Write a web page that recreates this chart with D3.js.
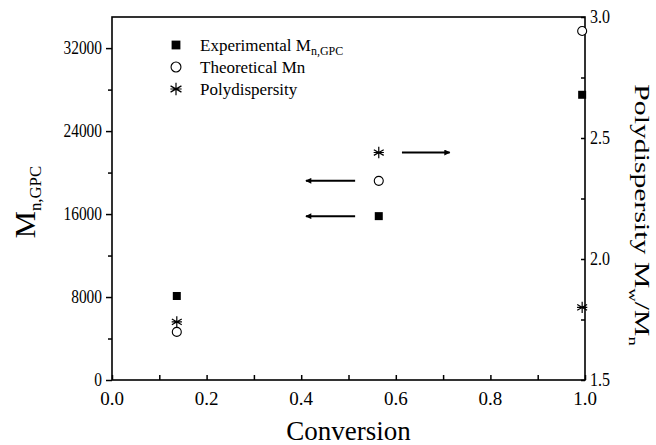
<!DOCTYPE html>
<html>
<head>
<meta charset="utf-8">
<script src="https://cdn.jsdelivr.net/npm/d3@7"></script>
<style>
  body { margin: 0; background: #fff; }
</style>
</head>
<body>
<svg id="viz"></svg>
<script>
var width = 656;
var height = 445;

// data
var conversion = [0.137, 0.564, 0.994];
var mnExperimental = [8100, 15800, 27500];
var mnTheoretical = [4640, 19200, 33650];
var polydispersity = [1.74, 2.44, 1.80];

var leftTicks = [0, 8000, 16000, 24000, 32000];
var rightTicks = [1.5, 2.0, 2.5, 3.0];
var xTicks = [0.0, 0.2, 0.4, 0.6, 0.8, 1.0];

// arrows: [from x, to x, series value, axis]
var arrows = [
  [0.613, 0.714, polydispersity[1], "right"],
  [0.514, 0.410, mnTheoretical[1], "left"],
  [0.514, 0.410, mnExperimental[1], "left"]
];

var legendItems = ["square", "circle", "star"];

var plotLeft = 112, plotRight = 585, plotTop = 17, plotBottom = 380;
var serif = "'Liberation Serif', 'Times New Roman', Times, 'DejaVu Serif', serif";

var x = d3.scaleLinear().domain([0, 1]).range([plotLeft, plotRight]);
var yL = d3.scaleLinear().domain([0, 35000]).range([plotBottom, plotTop]);
var yR = d3.scaleLinear().domain([1.5, 3.0]).range([plotBottom, plotTop]);

var svg = d3.select("#viz")
    .attr("width", width)
    .attr("height", height)
    .attr("font-family", serif)
    .style("font-family", serif);

svg.append("defs").append("marker")
    .attr("id", "head")
    .attr("viewBox", "0 -5 10 10")
    .attr("refX", 9)
    .attr("refY", 0)
    .attr("markerWidth", 4)
    .attr("markerHeight", 3)
    .attr("markerUnits", "strokeWidth")
    .attr("orient", "auto")
    .append("path")
    .attr("d", "M0,-5L10,0L0,5Z")
    .attr("fill", "#000");

// asterisk symbol with six arms
var symbolAsterisk = {
  draw: function(ctx, size) {
    var r = Math.sqrt(size) / 2;
    for (var i = 0; i < 3; i++) {
      var a = Math.PI / 2 + i * Math.PI / 3;
      ctx.moveTo(r * Math.cos(a), r * Math.sin(a));
      ctx.lineTo(-r * Math.cos(a), -r * Math.sin(a));
    }
    ctx.moveTo(-r * 0.9, 0);
    ctx.lineTo(r * 0.9, 0);
  }
};

// axes
var xAxis = d3.axisBottom(x)
    .tickValues(d3.range(0, 1.01, 0.1))
    .tickSize(-5)
    .tickFormat("");
var gx = svg.append("g").attr("transform", "translate(0," + plotBottom + ")").call(xAxis);

var leftAxis = d3.axisLeft(yL)
    .tickValues(d3.range(0, 34001, 4000))
    .tickSize(6)
    .tickFormat("");
var gl = svg.append("g").attr("transform", "translate(" + plotLeft + ",0)").call(leftAxis);
gl.selectAll(".tick line").attr("x2", function(d) { return d % 8000 == 0 ? -6 : -4; });

var rightAxis = d3.axisRight(yR)
    .tickValues(d3.range(1.5, 3.01, 0.25))
    .tickSize(-4)
    .tickFormat("");
var gr = svg.append("g").attr("transform", "translate(" + plotRight + ",0)").call(rightAxis);

[gx, gl, gr].forEach(function(g) {
  g.select(".domain").remove();
  g.selectAll(".tick line").attr("stroke", "#000").attr("stroke-width", 1.5);
});

svg.append("rect")
    .attr("x", plotLeft).attr("y", plotTop)
    .attr("width", plotRight - plotLeft).attr("height", plotBottom - plotTop)
    .attr("fill", "none").attr("stroke", "#000").attr("stroke-width", 1.6);

function addText(sel) {
  return sel.append("text").attr("font-family", serif).attr("fill", "#000");
}

// tick labels (the original lettering is a little condensed)
svg.append("g").selectAll("text")
    .data(xTicks).enter().append("text")
    .attr("font-family", serif)
    .attr("x", function(d) { return x(d); })
    .attr("y", 405)
    .attr("text-anchor", "middle")
    .attr("font-size", 19)
    .text(function(d) { return d.toFixed(1); });

svg.append("g").selectAll("text")
    .data(leftTicks).enter().append("text")
    .attr("font-family", serif)
    .attr("x", plotLeft - 10)
    .attr("y", function(d) { return yL(d) + 6; })
    .attr("text-anchor", "end")
    .attr("font-size", 19)
    .attr("textLength", function(d) { return String(d).length * 7.7; })
    .attr("lengthAdjust", "spacingAndGlyphs")
    .text(function(d) { return d; });

svg.append("g").selectAll("text")
    .data(rightTicks).enter().append("text")
    .attr("font-family", serif)
    .attr("x", plotRight + 5)
    .attr("y", function(d) { return yR(d) + 6; })
    .attr("font-size", 19)
    .attr("textLength", 20)
    .attr("lengthAdjust", "spacingAndGlyphs")
    .text(function(d) { return d.toFixed(1); });

// axis titles
addText(svg)
    .attr("x", (plotLeft + plotRight) / 2)
    .attr("y", 440)
    .attr("text-anchor", "middle")
    .attr("font-size", 27)
    .text("Conversion");

var lt = addText(svg)
    .attr("transform", "translate(35,202) rotate(-90) scale(1.05,1)")
    .attr("text-anchor", "middle")
    .attr("font-size", 29);
lt.append("tspan").text("M");
lt.append("tspan").attr("dy", 6).attr("font-size", 16).text("n,GPC");

var rt = addText(svg)
    .attr("transform", "translate(635,215) rotate(90) scale(1.24,0.88)")
    .attr("text-anchor", "middle")
    .attr("font-size", 24);
rt.append("tspan").text("Polydispersity M");
rt.append("tspan").attr("dy", 7).attr("font-size", 15).text("w");
rt.append("tspan").attr("dy", -7).text("/M");
rt.append("tspan").attr("dy", 7).attr("font-size", 15).text("n");

// marker drawing
function drawMarker(g, type, k) {
  k = k || 1;
  if (type == "square") {
    g.append("rect").attr("x", -4 * k).attr("y", -4 * k).attr("width", 8 * k).attr("height", 8 * k).attr("fill", "#000");
  } else if (type == "circle") {
    g.append("circle").attr("r", 4.5 * k).attr("fill", "#fff").attr("stroke", "#000").attr("stroke-width", 1.1);
  } else {
    g.append("path")
      .attr("d", d3.symbol().type(symbolAsterisk).size(130 * k * k)())
      .attr("stroke", "#000").attr("stroke-width", 1.2).attr("fill", "none");
  }
}

var points = svg.append("g");
conversion.forEach(function(c, i) {
  drawMarker(points.append("g").attr("transform", "translate(" + x(c) + "," + yL(mnTheoretical[i]) + ")"), "circle");
  drawMarker(points.append("g").attr("transform", "translate(" + x(c) + "," + yR(polydispersity[i]) + ")"), "star");
  drawMarker(points.append("g").attr("transform", "translate(" + x(c) + "," + yL(mnExperimental[i]) + ")"), "square");
});

// arrows pointing to the matching axis
svg.append("g").selectAll("line")
    .data(arrows).enter().append("line")
    .attr("x1", function(d) { return x(d[0]); })
    .attr("x2", function(d) { return x(d[1]); })
    .attr("y1", function(d) { return d[3] == "left" ? yL(d[2]) : yR(d[2]); })
    .attr("y2", function(d) { return d[3] == "left" ? yL(d[2]) : yR(d[2]); })
    .attr("stroke", "#000")
    .attr("stroke-width", 2)
    .attr("marker-end", "url(#head)");

// legend
var legend = svg.append("g").attr("transform", "translate(176,45)");
legendItems.forEach(function(type, i) {
  var row = legend.append("g").attr("transform", "translate(0," + (i * 22) + ")");
  drawMarker(row.append("g"), type, 1.1);
  var t = addText(row).attr("x", 24).attr("y", 6).attr("font-size", 17);
  if (i == 0) {
    t.append("tspan").text("Experimental M");
    t.append("tspan").attr("dy", 4).attr("font-size", 12).text("n,GPC");
  } else if (i == 1) {
    t.text("Theoretical Mn");
  } else {
    t.text("Polydispersity");
  }
});
</script>
</body>
</html>
